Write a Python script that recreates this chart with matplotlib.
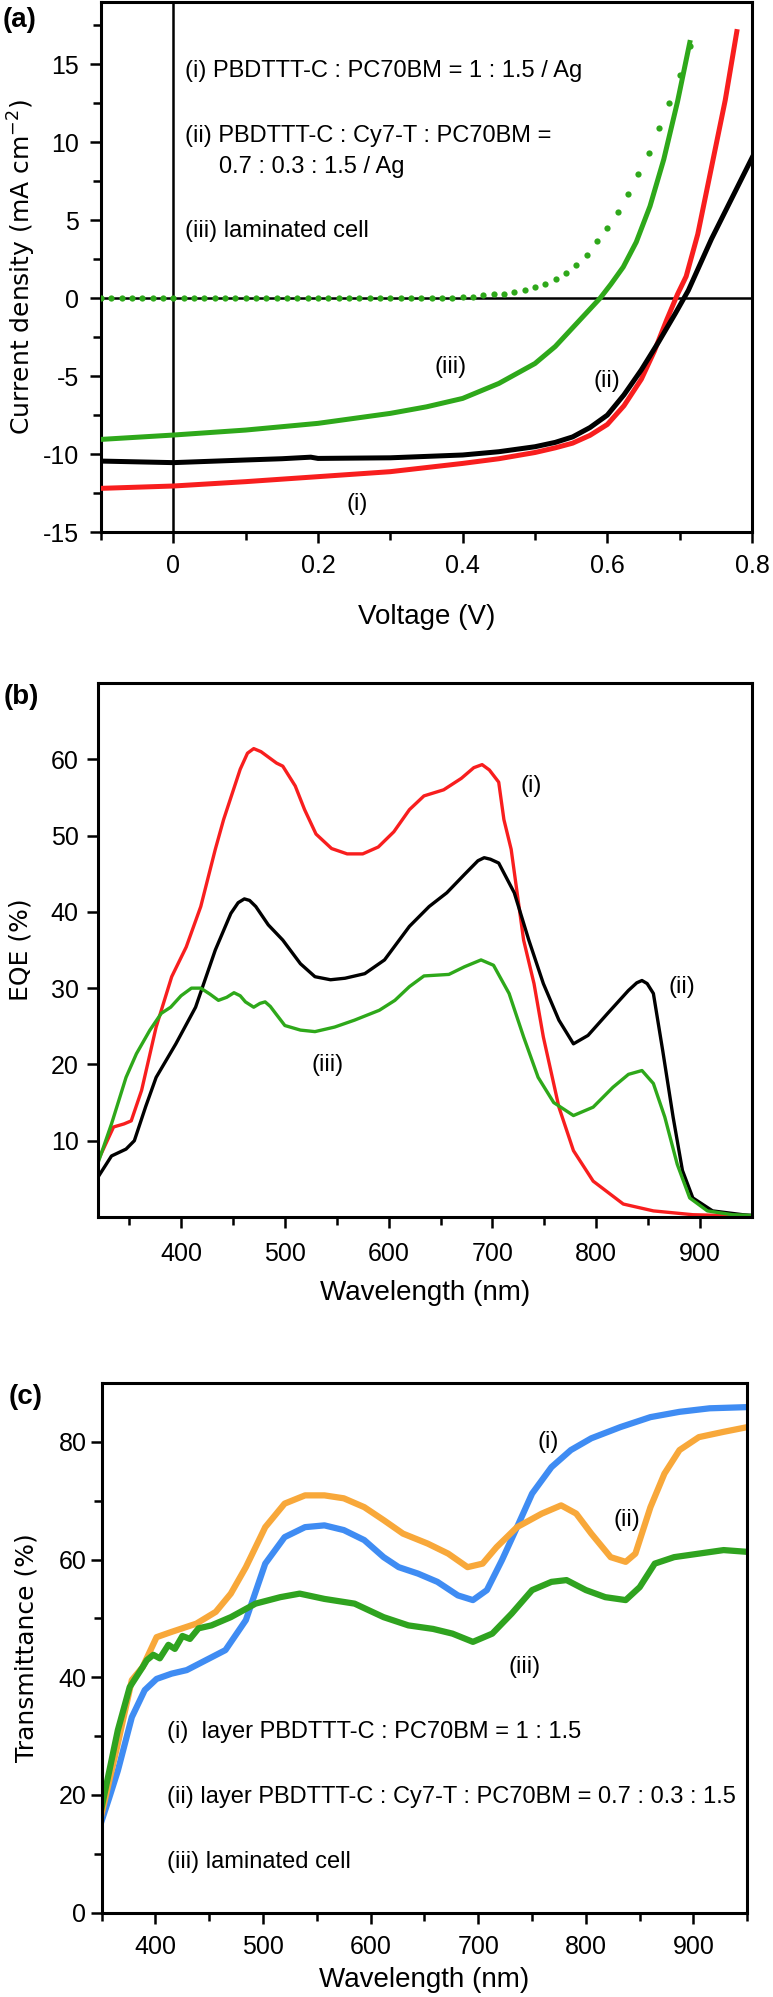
import numpy as np
import matplotlib
matplotlib.use('Agg')
import matplotlib.pyplot as plt
from matplotlib.ticker import MultipleLocator, FixedLocator, FuncFormatter

plt.rcParams['font.family'] = ['Liberation Sans', 'DejaVu Sans']
plt.rcParams['axes.unicode_minus'] = False
plt.rcParams['axes.linewidth'] = 2.2
plt.rcParams['lines.solid_joinstyle'] = 'round'

RED, BLACK, GREEN = '#f81e1e', '#000000', '#2ea81a'
BLUE, ORANGE, GREEN_C = '#3f8cf3', '#f8a83a', '#2fa31f'

# ---- (a) J-V curves ----
V_i = [-0.1, 0, 0.1, 0.2, 0.3, 0.4, 0.45, 0.5, 0.528, 0.552, 0.576, 0.6, 0.623,
       0.647, 0.665, 0.682, 0.697, 0.709, 0.725, 0.744, 0.763, 0.779]
J_i = [-12.2, -12.05, -11.77, -11.45, -11.13, -10.6, -10.3, -9.9, -9.6, -9.3,
       -8.8, -8.1, -6.9, -5.2, -3.4, -1.4, 0.25, 1.4, 4.1, 8.4, 12.7, 17.1]

V_ii = [-0.1, 0, 0.1, 0.15, 0.19, 0.2, 0.3, 0.4, 0.45, 0.5, 0.528, 0.552, 0.576,
        0.6, 0.623, 0.647, 0.671, 0.694, 0.712, 0.744, 0.772, 0.8]
J_ii = [-10.45, -10.55, -10.38, -10.3, -10.2, -10.28, -10.24, -10.06, -9.85, -9.53,
        -9.25, -8.9, -8.3, -7.5, -6.2, -4.6, -2.8, -0.98, 0.5, 3.8, 6.4, 9.0]

V_iii = [-0.1, 0, 0.1, 0.2, 0.3, 0.35, 0.4, 0.45, 0.5, 0.528, 0.552, 0.576, 0.59,
         0.605, 0.622, 0.64, 0.659, 0.678, 0.697, 0.714]
J_iii = [-9.06, -8.78, -8.46, -8.03, -7.39, -6.97, -6.43, -5.47, -4.19, -3.1, -1.9,
         -0.7, 0.0, 0.9, 2.0, 3.6, 5.9, 8.9, 12.6, 16.4]

# dark curve of laminated cell (dots), one point per measured voltage step
V_dark = np.linspace(-0.1, -0.1 + 57 / 70, 58)
J_dark = [0] * 34 + [0.03, 0.06, 0.1, 0.19, 0.25, 0.3, 0.4, 0.5, 0.7, 0.93, 1.25,
                     1.62, 2.15, 2.8, 3.67, 4.5, 5.5, 6.67, 7.95, 9.34, 10.9, 12.5,
                     14.3, 16.2]

# ---- (b) EQE ----
wl_b_i = [318, 335, 345, 352, 362, 376, 391, 405, 419, 433, 441, 457, 464, 470, 477,
          484, 492, 498, 510, 519, 530, 545, 560, 575, 590, 605, 620, 634, 653, 670,
          682, 690, 697, 706, 711, 718, 730, 740, 749, 764, 778, 797, 826, 855, 893,
          951]
eqe_i = [6.8, 11.8, 12.2, 12.6, 16.6, 24.9, 31.5, 35.4, 40.7, 48.2, 52.1, 58.7, 60.8,
         61.4, 61.0, 60.3, 59.5, 59.1, 56.5, 53.4, 50.2, 48.3, 47.6, 47.6, 48.5, 50.5,
         53.4, 55.2, 56.0, 57.5, 58.9, 59.3, 58.6, 57.0, 52.1, 48.2, 36.3, 30.6, 23.6,
         14.4, 8.7, 4.7, 1.7, 0.8, 0.3, 0.1]

wl_b_ii = [318, 333, 347, 355, 366, 376, 395, 414, 433, 448, 455, 461, 466, 472, 484,
           498, 515, 529, 544, 558, 577, 596, 620, 639, 656, 673, 686, 692, 698, 706,
           721, 735, 749, 764, 778, 792, 811, 831, 839, 844, 849, 855, 864, 874, 883,
           893, 912, 941, 951]
eqe_ii = [4.8, 8.0, 8.9, 10.0, 14.5, 18.3, 22.7, 27.5, 35.0, 39.8, 41.2, 41.7, 41.5,
          40.7, 38.3, 36.3, 33.2, 31.5, 31.1, 31.3, 31.9, 33.7, 38.1, 40.7, 42.5, 44.9,
          46.7, 47.1, 46.9, 46.4, 42.5, 36.3, 30.6, 25.8, 22.7, 23.8, 26.7, 29.7, 30.7,
          31.0, 30.6, 29.3, 21.8, 13.1, 6.1, 2.5, 0.8, 0.3, 0.2]

wl_b_iii = [318, 333, 347, 357, 370, 381, 390, 400, 410, 419, 428, 436, 444, 451, 457,
            462, 470, 476, 481, 486, 491, 500, 515, 529, 548, 567, 591, 606, 620, 634,
            658, 673, 689, 701, 716, 730, 744, 759, 778, 797, 816, 831, 844, 855, 866,
            878, 890, 907, 931, 951]
eqe_iii = [6.3, 12.2, 18.3, 21.4, 24.5, 26.7, 27.5, 29.0, 30.0, 30.0, 29.2, 28.4, 28.8,
           29.4, 29.0, 28.2, 27.5, 28.0, 28.2, 27.6, 26.7, 25.1, 24.5, 24.3, 24.9, 25.8,
           27.1, 28.4, 30.2, 31.6, 31.8, 32.8, 33.7, 33.0, 29.3, 23.6, 18.3, 15.0, 13.3,
           14.4, 17.0, 18.7, 19.2, 17.5, 13.1, 6.9, 2.5, 0.8, 0.3, 0.2]

# ---- (c) transmittance ----
wl_c_i = [350, 357, 365, 378, 390, 401, 415, 429, 447, 465, 484, 502, 520, 539, 557,
          575, 594, 612, 626, 644, 662, 681, 695, 708, 722, 736, 750, 768, 786, 805,
          832, 860, 887, 915, 950]
T_i = [15.6, 19.5, 24.1, 33.2, 37.8, 39.7, 40.6, 41.2, 42.9, 44.6, 49.7, 59.3, 63.8,
       65.5, 65.8, 65.0, 63.3, 60.4, 58.7, 57.6, 56.2, 53.9, 53.1, 54.8, 59.9, 65.5,
       71.2, 75.7, 78.6, 80.6, 82.5, 84.2, 85.1, 85.7, 85.9]

wl_c_ii = [350, 365, 378, 388, 401, 415, 438, 456, 470, 484, 502, 520, 539, 557, 575,
           594, 612, 630, 653, 672, 690, 704, 717, 736, 759, 777, 791, 805, 823, 837,
           846, 860, 873, 887, 905, 928, 950]
T_ii = [16.8, 28.7, 39.5, 41.7, 46.8, 47.7, 49.1, 51.1, 54.2, 58.7, 65.5, 69.5, 70.9,
        70.9, 70.4, 68.9, 66.7, 64.4, 62.7, 61.0, 58.7, 59.3, 62.1, 65.5, 67.8, 69.2,
        67.8, 64.4, 60.4, 59.6, 61.0, 68.9, 74.6, 78.6, 80.8, 81.7, 82.5]

wl_c_iii = [350, 365, 376, 388, 392, 398, 404, 412, 418, 425, 432, 440, 452, 470, 493,
            516, 534, 557, 585, 612, 635, 658, 676, 695, 713, 731, 750, 768, 782, 800,
            818, 837, 850, 864, 882, 905, 928, 950]
T_iii = [17.9, 31.0, 38.3, 41.7, 42.9, 43.8, 43.2, 45.5, 44.8, 47.0, 46.5, 48.3, 48.8,
         50.2, 52.5, 53.6, 54.2, 53.3, 52.5, 50.2, 48.8, 48.2, 47.4, 46.0, 47.4, 50.8,
         54.8, 56.2, 56.5, 54.8, 53.6, 53.1, 55.3, 59.3, 60.4, 61.0, 61.6, 61.3]

W, H = 773, 1997
fig = plt.figure(figsize=(W / 100, H / 100), dpi=100)


def box(l, t, r, b):
    # pixel box -> figure axes
    return fig.add_axes([l / W, 1 - b / H, (r - l) / W, (b - t) / H])


def style(ax, pad):
    ax.tick_params(which='both', direction='out', width=1.8, top=False, right=False,
                   labelsize=18, pad=pad)
    ax.tick_params(which='major', length=8)
    ax.tick_params(which='minor', length=6)


TXT = dict(fontsize=17, va='center')
YLAB = dict(rotation=90, ha='center', va='center', family='DejaVu Sans', fontsize=18)

# (a)
ax = box(101, 2, 752, 532)
ax.axhline(0, color='k', lw=1.8, zorder=1)
ax.axvline(0, color='k', lw=1.8, zorder=1)
ax.plot(V_dark, J_dark, 'o', ms=4.5, mec='none', color=GREEN, zorder=3)
ax.plot(V_i, J_i, color=RED, lw=3.6, zorder=3)
ax.plot(V_ii, J_ii, color=BLACK, lw=3.6, zorder=4)
ax.plot(V_iii, J_iii, color=GREEN, lw=3.6, zorder=3)
ax.set_xlim(-0.1, 0.8)
ax.set_ylim(-15, 19)
ax.xaxis.set_major_locator(FixedLocator([0, 0.2, 0.4, 0.6, 0.8]))
ax.xaxis.set_minor_locator(FixedLocator([-0.1, 0.1, 0.3, 0.5, 0.7]))
ax.xaxis.set_major_formatter(FuncFormatter(lambda v, p: '0' if abs(v) < 1e-9 else f'{v:g}'))
ax.yaxis.set_major_locator(FixedLocator([-15, -10, -5, 0, 5, 10, 15]))
ax.yaxis.set_minor_locator(MultipleLocator(2.5))
style(ax, 8)
ax.text(0.016, 14.6, '(i) PBDTTT-C : PC70BM = 1 : 1.5 / Ag', **TXT)
ax.text(0.016, 10.4, '(ii) PBDTTT-C : Cy7-T : PC70BM =', **TXT)
ax.text(0.063, 8.4, '0.7 : 0.3 : 1.5 / Ag', **TXT)
ax.text(0.016, 4.3, '(iii) laminated cell', **TXT)
ax.text(0.383, -4.4, '(iii)', ha='center', **TXT)
ax.text(0.6, -5.3, '(ii)', ha='center', **TXT)
ax.text(0.254, -13.2, '(i)', ha='center', **TXT)
ax.text(0.5, -0.16, 'Voltage (V)', transform=ax.transAxes, ha='center', va='center',
        fontsize=20)
ax.text(-0.121, 0.5, 'Current density (mA cm$^{-2}$)', transform=ax.transAxes, **YLAB)

# (b)
ax = box(98, 683, 752, 1217)
ax.plot(wl_b_i, eqe_i, color=RED, lw=2.4)
ax.plot(wl_b_ii, eqe_ii, color=BLACK, lw=2.4)
ax.plot(wl_b_iii, eqe_iii, color=GREEN, lw=2.4)
ax.set_xlim(320, 950)
ax.set_ylim(0, 70)
ax.xaxis.set_major_locator(FixedLocator([400, 500, 600, 700, 800, 900]))
ax.xaxis.set_minor_locator(FixedLocator([350, 450, 550, 650, 750, 850]))
ax.yaxis.set_major_locator(FixedLocator([10, 20, 30, 40, 50, 60]))
style(ax, 10)
ax.tick_params(axis='y', pad=6)
ax.text(737, 56.5, '(i)', ha='center', **TXT)
ax.text(882, 30.2, '(ii)', ha='center', **TXT)
ax.text(541, 19.9, '(iii)', ha='center', **TXT)
ax.text(0.5, -0.142, 'Wavelength (nm)', transform=ax.transAxes, ha='center',
        va='center', fontsize=20)
ax.text(-0.119, 0.5, 'EQE (%)', transform=ax.transAxes, **YLAB)

# (c)
ax = box(101.7, 1383, 747.3, 1912.5)
ax.plot(wl_c_i, T_i, color=BLUE, lw=4.5)
ax.plot(wl_c_ii, T_ii, color=ORANGE, lw=4.5)
ax.plot(wl_c_iii, T_iii, color=GREEN_C, lw=4.5)
ax.set_xlim(350, 950)
ax.set_ylim(0, 90)
ax.xaxis.set_major_locator(FixedLocator([400, 500, 600, 700, 800, 900]))
ax.xaxis.set_minor_locator(FixedLocator([350, 450, 550, 650, 750, 850, 950]))
ax.yaxis.set_major_locator(FixedLocator([0, 20, 40, 60, 80]))
ax.yaxis.set_minor_locator(FixedLocator([10, 30, 50, 70]))
style(ax, 8)
ax.tick_params(axis='y', pad=3)
ax.text(765, 80, '(i)', ha='center', **TXT)
ax.text(838, 66.7, '(ii)', ha='center', **TXT)
ax.text(743, 41.7, '(iii)', ha='center', **TXT)
ax.text(411, 30.7, '(i)  layer PBDTTT-C : PC70BM = 1 : 1.5', **TXT)
ax.text(411, 19.6, '(ii) layer PBDTTT-C : Cy7-T : PC70BM = 0.7 : 0.3 : 1.5', **TXT)
ax.text(411, 8.6, '(iii) laminated cell', **TXT)
ax.text(0.5, -0.1275, 'Wavelength (nm)', transform=ax.transAxes, ha='center',
        va='center', fontsize=20)
ax.text(-0.116, 0.5, 'Transmittance (%)', transform=ax.transAxes, **YLAB)

for lab, (x, y) in zip(['(a)', '(b)', '(c)'], [(20, 20), (21, 697), (26, 1397)]):
    fig.text(x / W, 1 - y / H, lab, ha='center', va='center', fontsize=20,
             fontweight='bold')

fig.savefig('out.png', dpi=100)
